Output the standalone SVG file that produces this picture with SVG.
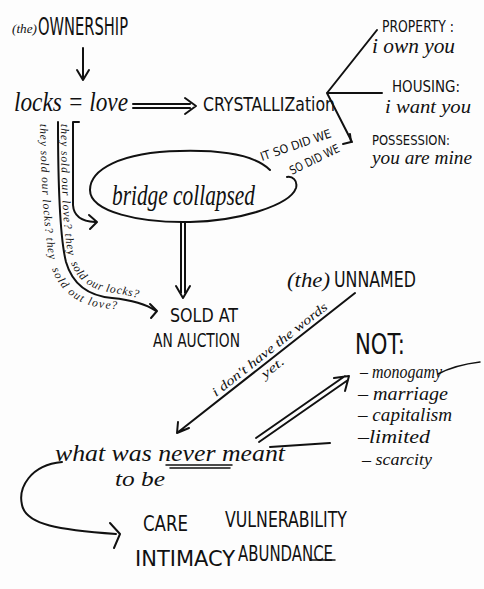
<svg xmlns="http://www.w3.org/2000/svg" width="484" height="589" viewBox="0 0 484 589">
<style>
.bg{fill:#fdfdfd}
.ln{fill:none;stroke:#111;stroke-width:2;stroke-linecap:round;stroke-linejoin:round}
.thin{fill:none;stroke:#111;stroke-width:1.5;stroke-linecap:round;stroke-linejoin:round}
.cap{font-family:"DejaVu Sans Condensed","Liberation Sans Narrow","Liberation Sans",sans-serif;fill:#111}
.cur{font-family:"Liberation Serif",serif;font-style:italic;fill:#111}
</style>
<defs>
  <path id="tp1a" d="M61,124 C61,180 63,236 69,258"/>
  <path id="tp1b" d="M71,263 C78,282 92,290 114,293 C126,295 136,297 146,300"/>
  <path id="tp2a" d="M40,124 C41,180 44,236 50,262"/>
  <path id="tp2b" d="M52,269 C60,292 78,305 104,308 C112,309 118,309 124,309"/>
</defs>
<rect class="bg" x="0" y="0" width="484" height="589"/>

<g id="connectors">
  <!-- ownership -> locks -->
  <path class="ln" d="M83,48 L83,79 M77,70 L83,80 L89,70"/>
  <!-- locks=love => crystallization (double) -->
  <path class="ln" d="M133,104 L190,104 M133,108 L190,108 M185,98 L196,106 L185,114"/>
  <!-- branches -->
  <path class="ln" d="M377,30 L327,93 L382,93 M327,93 L352,142"/>
  <path class="ln" d="M343,144 L351,142 L350,134"/>
  <!-- bridge => sold (double) -->
  <path class="ln" d="M181,223 L181,293 M185,223 L185,293 M176,286 L183,298 L190,286"/>
  <!-- short curved arrow from locks -->
  <path class="ln" d="M73,122 L79,122 M73,122 L73,205 Q74,221 95,222 M89,215 L97,222 L90,229"/>
  <!-- long curved arrow from locks -->
  <path class="ln" d="M58,122 C58,180 60,238 66,262 C73,286 90,296 112,298 C132,300 146,304 156,311"/>
  <path class="ln" d="M150,304 L157,311 L151,318"/>
  <!-- unnamed -> what was never meant -->
  <path class="ln" d="M355,293 L177,433 M178,422 L177,433 L189,428"/>
  <!-- what was never meant => NOT (double) -->
  <path class="ln" d="M256,438 L345,376 M259,442 L348,380 M334,378 L349,376 L345,391"/>
  <!-- what -> care -->
  <path class="ln" d="M62,462 C30,465 18,488 22,505 C26,525 60,530 116,534 M110,523 L120,534 L114,548"/>
</g>

<g id="ownership">
  <text class="cur" x="12" y="33" font-size="13" textLength="25" lengthAdjust="spacingAndGlyphs">(the)</text>
  <text class="cap" x="38" y="35" font-size="25" textLength="90" lengthAdjust="spacingAndGlyphs">OWNERSHIP</text>
</g>

<g id="locks-love">
  <text class="cur" x="14" y="111" font-size="28" textLength="114" lengthAdjust="spacingAndGlyphs">locks = love</text>
</g>

<g id="crystallization">
  <text class="cap" x="203" y="111" font-size="20" textLength="132" lengthAdjust="spacingAndGlyphs">CRYSTALLIZation</text>
</g>

<g id="property">
  <text class="cap" x="382" y="32" font-size="16" textLength="72" lengthAdjust="spacingAndGlyphs">PROPERTY :</text>
  <text class="cur" x="372" y="53" font-size="20" textLength="83" lengthAdjust="spacingAndGlyphs">i own you</text>
</g>

<g id="housing">
  <text class="cap" x="392" y="92" font-size="15" textLength="68" lengthAdjust="spacingAndGlyphs">HOUSING:</text>
  <text class="cur" x="385" y="113" font-size="19" textLength="86" lengthAdjust="spacingAndGlyphs">i want you</text>
</g>

<g id="possession">
  <text class="cap" x="372" y="145" font-size="14" textLength="78" lengthAdjust="spacingAndGlyphs">POSSESSION:</text>
  <text class="cur" x="372" y="164" font-size="18" textLength="100" lengthAdjust="spacingAndGlyphs">you are mine</text>
</g>

<g id="so-did-we">
  <text class="cap" x="262" y="161" font-size="12" textLength="74" lengthAdjust="spacingAndGlyphs" transform="rotate(-19 262 161)">IT SO DID WE</text>
  <text class="cap" x="292" y="175" font-size="12" textLength="54" lengthAdjust="spacingAndGlyphs" transform="rotate(-26 292 175)">SO DID WE</text>
</g>

<g id="bridge">
  <path class="ln" d="M270,170 C255,155 220,150 180,151 C120,152 90,170 90,190 C90,212 140,223 190,222 C240,221 290,205 296,188 C298,180 292,176 287,177"/>
  <text class="cur" x="112" y="205" font-size="30" textLength="143" lengthAdjust="spacingAndGlyphs">bridge collapsed</text>
</g>

<g id="they-sold">
  <text class="cur" font-size="11.5"><textPath href="#tp1a" textLength="132" lengthAdjust="spacing">they sold our love? they</textPath></text>
  <text class="cur" font-size="11.5"><textPath href="#tp1b" textLength="80" lengthAdjust="spacing">sold our locks?</textPath></text>
  <text class="cur" font-size="11.5"><textPath href="#tp2a" textLength="136" lengthAdjust="spacing">they sold our locks? they</textPath></text>
  <text class="cur" font-size="11.5"><textPath href="#tp2b" textLength="82" lengthAdjust="spacing">sold out love?</textPath></text>
</g>

<g id="sold">
  <text class="cap" x="170" y="322" font-size="20" textLength="68" lengthAdjust="spacingAndGlyphs">SOLD AT</text>
  <text class="cap" x="153" y="347" font-size="20" textLength="87" lengthAdjust="spacingAndGlyphs">AN AUCTION</text>
</g>

<g id="unnamed">
  <text class="cur" x="287" y="287" font-size="22" textLength="43" lengthAdjust="spacingAndGlyphs">(the)</text>
  <text class="cap" x="334" y="287" font-size="22" textLength="82" lengthAdjust="spacingAndGlyphs">UNNAMED</text>
</g>

<g id="words">
  <text class="cur" x="216" y="397" font-size="13" textLength="143" lengthAdjust="spacingAndGlyphs" transform="rotate(-38.2 216 397)">i don't have the words</text>
  <text class="cur" x="265" y="379" font-size="13" textLength="26" lengthAdjust="spacingAndGlyphs" transform="rotate(-38.2 265 379)">yet.</text>
</g>

<g id="not">
  <text class="cap" x="355" y="354" font-size="28" textLength="50" lengthAdjust="spacingAndGlyphs">NOT:</text>
  <text class="cur" x="360" y="378" font-size="19" textLength="82" lengthAdjust="spacingAndGlyphs">– monogamy</text>
  <path class="thin" d="M438,374 Q455,365 480,362"/>
  <text class="cur" x="358" y="400" font-size="19" textLength="90" lengthAdjust="spacingAndGlyphs">– marriage</text>
  <text class="cur" x="358" y="421" font-size="19" textLength="94" lengthAdjust="spacingAndGlyphs">– capitalism</text>
  <text class="cur" x="358" y="443" font-size="19" textLength="72" lengthAdjust="spacingAndGlyphs">–limited</text>
  <text class="cur" x="362" y="465" font-size="17" textLength="70" lengthAdjust="spacingAndGlyphs">– scarcity</text>
</g>

<g id="never">
  <text class="cur" x="55" y="461" font-size="24" textLength="230" lengthAdjust="spacingAndGlyphs">what was never meant</text>
  <text class="cur" x="115" y="486" font-size="22" textLength="50" lengthAdjust="spacingAndGlyphs">to be</text>
  <path class="thin" d="M166,465 L232,465 M170,468 L230,468"/>
  <path class="ln" d="M270,447 L330,443"/>
</g>

<g id="care">
  <text class="cap" x="143" y="531" font-size="22" textLength="45" lengthAdjust="spacingAndGlyphs">CARE</text>
  <text class="cap" x="225" y="527" font-size="22" textLength="122" lengthAdjust="spacingAndGlyphs">VULNERABILITY</text>
  <text class="cap" x="135" y="566" font-size="22" textLength="100" lengthAdjust="spacingAndGlyphs">INTIMACY</text>
  <text class="cap" x="238" y="561" font-size="22" textLength="95" lengthAdjust="spacingAndGlyphs">ABUNDANCE</text>
  <path class="thin" d="M310,560 L335,560"/>
</g>
</svg>
